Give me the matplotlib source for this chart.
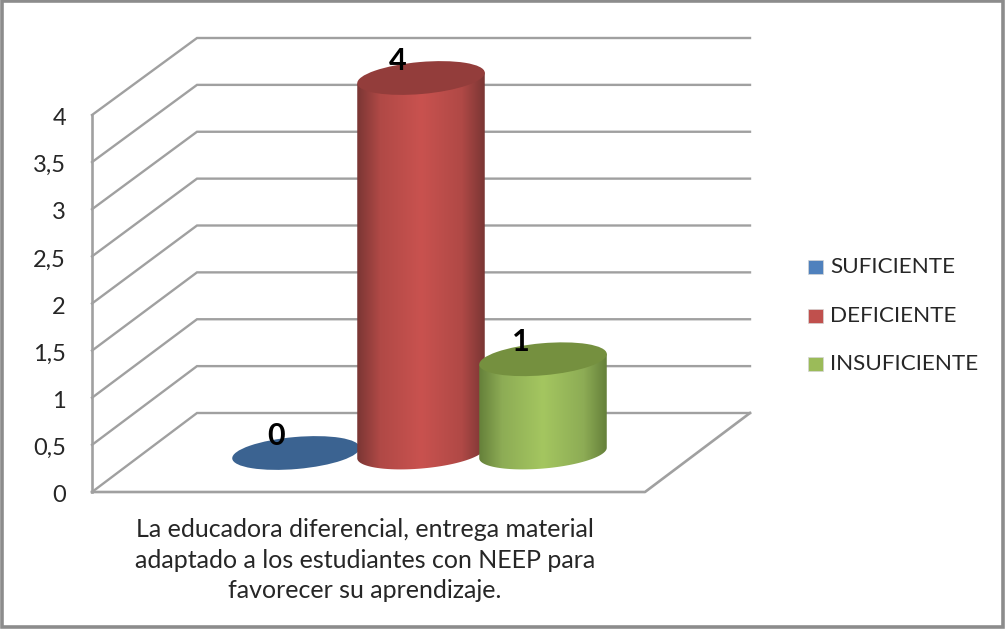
import numpy as np
import matplotlib
matplotlib.use("Agg")
import matplotlib.pyplot as plt
from matplotlib.patches import Ellipse, Rectangle, PathPatch
from matplotlib.path import Path
from matplotlib.colors import LinearSegmentedColormap

# data
categories = ["SUFICIENTE", "DEFICIENTE", "INSUFICIENTE"]
values = [0, 4, 1]
tick_values = [0, 0.5, 1, 1.5, 2, 2.5, 3, 3.5, 4]
tick_labels = ["0", "0,5", "1", "1,5", "2", "2,5", "3", "3,5", "4"]
caption = ("La educadora diferencial, entrega material\n"
           "adaptado a los estudiantes con NEEP para\n"
           "favorecer su aprendizaje.")

# colours: edge of the side, shoulder of the side, middle of the side, top, legend
side_dark = ["#2f4f78", "#7a3634", "#65803a"]
side_soft = ["#41699b", "#b04946", "#8dac55"]
side_mid = ["#4f81bd", "#c9524f", "#a4c660"]
top_col = ["#3b6391", "#933d3b", "#75903f"]
legend_col = ["#4f81bd", "#c0504d", "#9bbb59"]

grid_col = "#a0a0a0"
text_col = "#262626"
plt.rcParams["font.family"] = ["Lato", "DejaVu Sans"]

fig = plt.figure(figsize=(10.06, 6.3), dpi=100)
ax = fig.add_axes([0, 0, 1, 1])
# the axes run in picture pixels, the 3d look is worked out by hand
ax.axis("off")

ax.add_patch(Rectangle((2, 1), 1001, 626, fc="white", ec="#8c8c8c", lw=2.6))

unit_front = 94.25  # px per unit on the front edge
unit_back = 93.75
unit_bar = 93.75
front_x, front_y = 92, 492
back_x, back_y = 197, 413
right_x = 750
floor_right_x = 645
base_y = 453

# gridlines and walls
for v in tick_values:
    yf = front_y - v * unit_front
    yb = back_y - v * unit_back
    ax.plot([front_x, back_x, right_x], [yf, yb, yb], color=grid_col, lw=1.7,
            solid_joinstyle="miter", zorder=1)
ax.plot([front_x, front_x], [front_y, front_y - 4 * unit_front], color=grid_col, lw=1.9, zorder=1)
ax.plot([front_x, floor_right_x, right_x], [front_y, front_y, back_y], color=grid_col, lw=1.9, zorder=1)

for v, lab in zip(tick_values, tick_labels):
    ax.text(66, front_y - v * unit_front + 3.5, lab, ha="right", va="center", fontsize=17, color=text_col)


def cylinder(cx, value, i, z):
    w, h, angle = 128, 31, -5
    top = base_y - value * unit_bar
    if value > 0:
        t = np.radians(angle)
        a, b = w / 2, h / 2
        # lower half of the base ellipse, then up the left side and over the top
        s = np.linspace(0, np.pi, 60)
        px = cx + a * np.cos(s) * np.cos(t) - b * np.sin(s) * np.sin(t)
        py = base_y + a * np.cos(s) * np.sin(t) + b * np.sin(s) * np.cos(t)
        xs = np.r_[cx + a * np.cos(t), px, cx - a * np.cos(t)]
        ys = np.r_[top + a * np.sin(t), py, top - a * np.sin(t)]
        clip = PathPatch(Path(np.c_[xs, ys]), fc="none", ec="none", zorder=z)
        ax.add_patch(clip)
        cmap = LinearSegmentedColormap.from_list("side", [
            (0, side_dark[i]), (0.18, side_soft[i]), (0.5, side_mid[i]),
            (0.82, side_soft[i]), (1, side_dark[i])])
        grad = np.linspace(0, 1, 256)[None, :]
        im = ax.imshow(grad, extent=[cx - a, cx + a, base_y + 30, top - 30],
                       cmap=cmap, aspect="auto", zorder=z, vmin=0, vmax=1)
        im.set_clip_path(clip)
    ax.add_patch(Ellipse((cx, top), w, h + 1, angle=angle, fc=top_col[i], ec="none", zorder=z + 0.1))


centers = [296, 421, 543]
label_x = [276, 398, 521]
for i in range(3):
    cylinder(centers[i], values[i], i, 3 + i)
    top = base_y - values[i] * unit_bar
    ax.text(label_x[i], top - 17, str(values[i]), ha="center", va="center", fontsize=22,
            fontweight="bold", color="black", zorder=10)

ax.text(365, 560, caption, ha="center", va="center", fontsize=18, color=text_col, linespacing=1.38)

# legend
for i, name in enumerate(categories):
    y = 267 + i * 48.5
    ax.add_patch(Rectangle((808, y - 7), 15, 14, fc=legend_col[i], ec="#d5d5d5", lw=0.5, zorder=5))
    ax.text(830, y, name, ha="left", va="center", fontsize=16.2, color=text_col)

ax.set_xlim(0, 1006)
ax.set_ylim(630, 0)

fig.savefig("out.png", dpi=100)
